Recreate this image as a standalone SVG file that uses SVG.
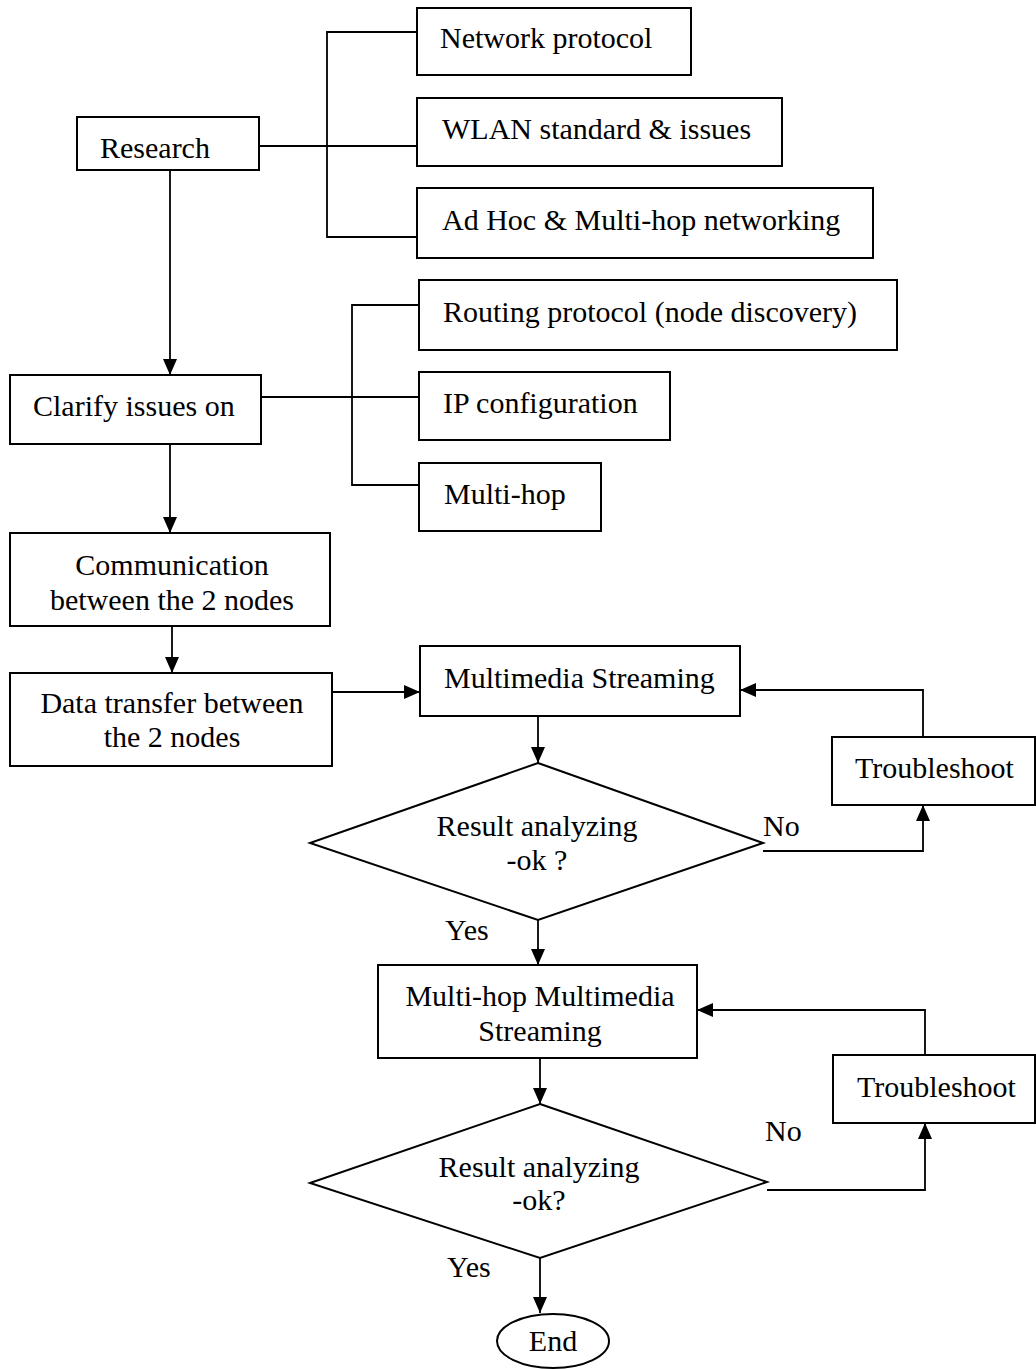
<svg xmlns="http://www.w3.org/2000/svg" width="1036" height="1369" viewBox="0 0 1036 1369">
  <style>
    .box { fill: #fff; stroke: #000; stroke-width: 2; }
    .lbl { font-family: "Liberation Serif", "Times New Roman", serif; font-size: 30px; fill: #000; }
    .mid { text-anchor: middle; }
    .wire { fill: none; stroke: #000; stroke-width: 1.8; }
  </style>
  <defs>
    <marker id="arrow" markerUnits="userSpaceOnUse" markerWidth="16" markerHeight="14" refX="16" refY="7" orient="auto">
      <path d="M0,0 L16,7 L0,14 Z" fill="#000"/>
    </marker>
  </defs>
  <rect width="1036" height="1369" fill="#fff"/>

  <!-- connectors -->
  <g id="connectors">
    <!-- research branches -->
    <path class="wire" d="M259,146 H417"/>
    <path class="wire" d="M417,32 H327 V237 H417"/>
    <!-- clarify branches -->
    <path class="wire" d="M261,397 H419"/>
    <path class="wire" d="M419,305 H352 V485 H419"/>
    <!-- main flow -->
    <path class="wire" d="M170,170 V375" marker-end="url(#arrow)"/>
    <path class="wire" d="M170,444 V533" marker-end="url(#arrow)"/>
    <path class="wire" d="M172,626 V673" marker-end="url(#arrow)"/>
    <path class="wire" d="M332,692 H420" marker-end="url(#arrow)"/>
    <path class="wire" d="M538,716 V763" marker-end="url(#arrow)"/>
    <path class="wire" d="M538,920 V965" marker-end="url(#arrow)"/>
    <path class="wire" d="M540,1058 V1104" marker-end="url(#arrow)"/>
    <path class="wire" d="M540,1258 V1313" marker-end="url(#arrow)"/>
    <!-- troubleshoot loops -->
    <path class="wire" d="M763,851 H923 V805" marker-end="url(#arrow)"/>
    <path class="wire" d="M923,737 V690 H740" marker-end="url(#arrow)"/>
    <path class="wire" d="M767,1190 H925 V1123" marker-end="url(#arrow)"/>
    <path class="wire" d="M925,1055 V1010 H697" marker-end="url(#arrow)"/>
  </g>

  <g id="research">
    <rect class="box" x="77" y="117" width="182" height="53"/>
    <text class="lbl" x="100" y="158">Research</text>
  </g>
  <g id="network-protocol">
    <rect class="box" x="417" y="8" width="274" height="67"/>
    <text class="lbl" x="440" y="48">Network protocol</text>
  </g>
  <g id="wlan">
    <rect class="box" x="417" y="98" width="365" height="68"/>
    <text class="lbl" x="442" y="139">WLAN standard &amp; issues</text>
  </g>
  <g id="adhoc">
    <rect class="box" x="417" y="188" width="456" height="70"/>
    <text class="lbl" x="442" y="230">Ad Hoc &amp; Multi-hop networking</text>
  </g>
  <g id="clarify">
    <rect class="box" x="10" y="375" width="251" height="69"/>
    <text class="lbl" x="33" y="416">Clarify issues on</text>
  </g>
  <g id="routing">
    <rect class="box" x="419" y="280" width="478" height="70"/>
    <text class="lbl" x="443" y="322">Routing protocol (node discovery)</text>
  </g>
  <g id="ip-config">
    <rect class="box" x="419" y="372" width="251" height="68"/>
    <text class="lbl" x="443" y="413">IP configuration</text>
  </g>
  <g id="multi-hop">
    <rect class="box" x="419" y="463" width="182" height="68"/>
    <text class="lbl" x="444" y="504">Multi-hop</text>
  </g>
  <g id="communication">
    <rect class="box" x="10" y="533" width="320" height="93"/>
    <text class="lbl mid" x="172" y="575">Communication</text>
    <text class="lbl mid" x="172" y="610">between the 2 nodes</text>
  </g>
  <g id="data-transfer">
    <rect class="box" x="10" y="673" width="322" height="93"/>
    <text class="lbl mid" x="172" y="713">Data transfer between</text>
    <text class="lbl mid" x="172" y="747">the 2 nodes</text>
  </g>
  <g id="streaming">
    <rect class="box" x="420" y="646" width="320" height="70"/>
    <text class="lbl" x="444" y="688">Multimedia Streaming</text>
  </g>
  <g id="troubleshoot-1">
    <rect class="box" x="832" y="737" width="203" height="68"/>
    <text class="lbl" x="855" y="778">Troubleshoot</text>
  </g>
  <g id="decision-1">
    <polygon class="box" points="538,763 763,843 538,920 310,843"/>
    <text class="lbl mid" x="537" y="836">Result analyzing</text>
    <text class="lbl mid" x="537" y="870">-ok ?</text>
    <text class="lbl" x="763" y="836">No</text>
    <text class="lbl" x="445" y="940">Yes</text>
  </g>
  <g id="multihop-streaming">
    <rect class="box" x="378" y="965" width="319" height="93"/>
    <text class="lbl mid" x="540" y="1006">Multi-hop Multimedia</text>
    <text class="lbl mid" x="540" y="1041">Streaming</text>
  </g>
  <g id="troubleshoot-2">
    <rect class="box" x="833" y="1055" width="202" height="68"/>
    <text class="lbl" x="857" y="1097">Troubleshoot</text>
  </g>
  <g id="decision-2">
    <polygon class="box" points="540,1104 767,1182 540,1258 310,1183"/>
    <text class="lbl mid" x="539" y="1177">Result analyzing</text>
    <text class="lbl mid" x="539" y="1210">-ok?</text>
    <text class="lbl" x="765" y="1141">No</text>
    <text class="lbl" x="447" y="1277">Yes</text>
  </g>
  <g id="end">
    <ellipse class="box" cx="553" cy="1341" rx="56" ry="27"/>
    <text class="lbl mid" x="553" y="1351">End</text>
  </g>
</svg>
